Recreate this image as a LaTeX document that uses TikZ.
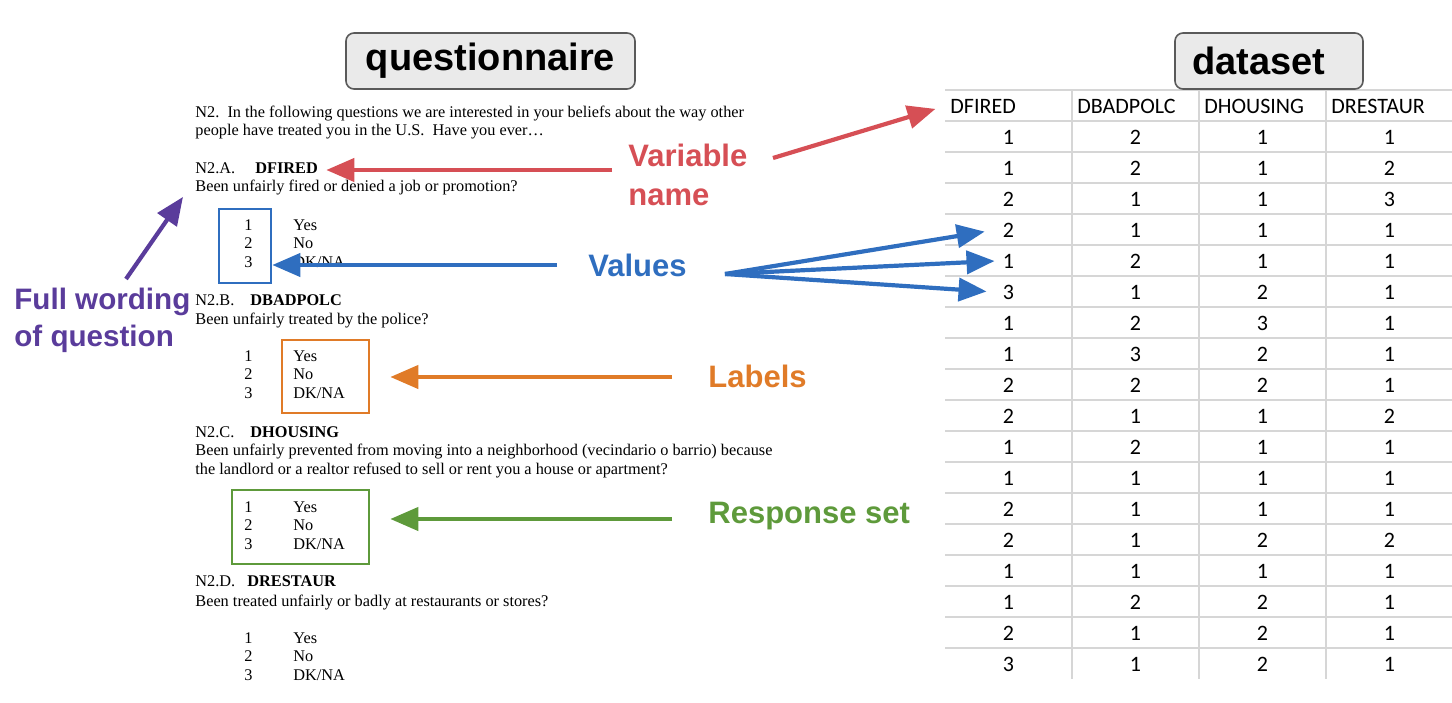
\documentclass[tikz,border=0pt]{standalone}
\usepackage{fontspec}
\setmainfont{Liberation Serif}
\newfontfamily\annofont{Liberation Sans}
\newfontfamily\sheetfont{Carlito}
\usepackage{tikz}
\usetikzlibrary{arrows.meta, positioning, fit}
\definecolor{varred}{HTML}{D64F55}
\definecolor{valblue}{HTML}{2F6EBF}
\definecolor{lblorange}{HTML}{E07B28}
\definecolor{setgreen}{HTML}{5E9A3B}
\definecolor{wordpurple}{HTML}{5A3C9B}
\definecolor{gridgray}{HTML}{D6D6D6}
\definecolor{hdrfill}{HTML}{EAEAEA}
\definecolor{hdrdraw}{HTML}{5A5A5A}
\tikzset{
  hdrbox/.style={
    draw=hdrdraw, fill=hdrfill, rounded corners=4pt, line width=0.8pt,
    minimum height=28pt, font=\annofont\fontsize{19}{22}\selectfont\bfseries
  },
  qline/.style={anchor=base west, inner sep=0pt, font=\fontsize{8.15}{9.4}\selectfont},
  qname/.style={anchor=base west, inner sep=0pt, font=\fontsize{8.15}{9.4}\selectfont\bfseries},
  respbox/.style={draw=#1, line width=1.3pt, inner sep=0pt},
  annolabel/.style={
    anchor=west, inner sep=0pt, align=left, text=#1,
    font=\annofont\fontsize{15.5}{19.5}\selectfont\bfseries
  },
  annoarrow/.style={draw=#1, line width=2.1pt, -{Triangle[length=14pt,width=11.5pt]}},
  gridline/.style={draw=gridgray, line width=0.6pt},
  colhead/.style={anchor=west, inner sep=2.5pt, font=\sheetfont\fontsize{11}{13}\selectfont},
  cell/.style={inner sep=4pt, font=\sheetfont\fontsize{11}{13}\selectfont}
}

\begin{document}
\begin{tikzpicture}[x=0.5pt, y=-0.5pt]
\useasboundingbox (0,0) rectangle (1452,702);

% questionnaire page
\node[qline] (intro1) at (195,117) {N2.\ \ In the following questions we are interested in your beliefs about the way other};
\node[qline] (intro2) at (195,135) {people have treated you in the U.S.\ \ Have you ever\ldots};

\node[qline] (headA) at (195,173) {N2.A.};
\node[qname] (nameA) at (255,173) {DFIRED};
\node[qline] (qA)    at (195,191) {Been unfairly fired or denied a job or promotion?};

\node[qline] (headB) at (195,305) {N2.B.};
\node[qname] (nameB) at (250,305) {DBADPOLC};
\node[qline] (qB)    at (195,324) {Been unfairly treated by the police?};

\node[qline] (headC) at (195,437) {N2.C.};
\node[qname] (nameC) at (250,437) {DHOUSING};
\node[qline] (qC1)   at (195,455) {Been unfairly prevented from moving into a neighborhood (vecindario o barrio) because};
\node[qline] (qC2)   at (195,474) {the landlord or a realtor refused to sell or rent you a house or apartment?};

\node[qline] (headD) at (195,586) {N2.D.};
\node[qname] (nameD) at (247,586) {DRESTAUR};
\node[qline] (qD)    at (195,606) {Been treated unfairly or badly at restaurants or stores?};

\foreach \blk/\y in {A/230, B/361, C/512, D/643} {
  \foreach \n/\t [count=\i] in {1/Yes, 2/No, 3/{DK/NA}} {
    \node[qline] (num\blk\i) at (244,\y+18.7*\i-18.7) {\n};
    \node[qline] (ans\blk\i) at (293,\y+18.7*\i-18.7) {\t};
  }
}

\node[respbox=valblue,   fit={(219,209) (271,283)}] (valbox) {};
\node[respbox=lblorange, fit={(282,340) (369,413)}] (ansbox) {};
\node[respbox=setgreen,  fit={(232,490) (369,564)}] (setbox) {};

% dataset
\draw[gridline] (945,90) -- (1452,90);
\foreach \k in {0,...,17}
  \draw[gridline] (945,121+31*\k) -- (1452,121+31*\k);
\foreach \x in {1072,1199,1326}
  \draw[gridline] (\x,90) -- (\x,679);

\foreach \h [count=\i] in {DFIRED,DBADPOLC,DHOUSING,DRESTAUR}
  \node[colhead] (hdr-\i) at (818+127*\i,106) {\h};

\foreach \a/\b/\c/\d [count=\r] in {1/2/1/1, 1/2/1/2, 2/1/1/3, 2/1/1/1, 1/2/1/1, 3/1/2/1,
    1/2/3/1, 1/3/2/1, 2/2/2/1, 2/1/1/2, 1/2/1/1, 1/1/1/1, 2/1/1/1, 2/1/2/2,
    1/1/1/1, 1/2/2/1, 2/1/2/1, 3/1/2/1} {
  \node[cell] (c-\r-1) at (1008.5,106+31*\r) {\a};
  \node[cell] (c-\r-2) at (1135.5,106+31*\r) {\b};
  \node[cell] (c-\r-3) at (1262.5,106+31*\r) {\c};
  \node[cell] (c-\r-4) at (1389.5,106+31*\r) {\d};
}

\node[hdrbox, minimum width=144.5pt] (qhdr) at (490.5,61) {questionnaire};
\node[hdrbox, minimum width=94pt]    (dhdr) at (1269,61)  {dataset\kern10pt};

% annotations
\node[annolabel=varred]     (varlbl)  at (628,175) {Variable\\name};
\node[annolabel=valblue]    (vallbl)  at (588,265) {Values};
\node[annolabel=lblorange]  (anslbl)  at (708,376) {Labels};
\node[annolabel=setgreen]   (setlbl)  at (708,516) {Response set};
\node[annolabel=wordpurple, font=\annofont\fontsize{14.8}{18.5}\selectfont\bfseries]
  (wordlbl) at (14,320) {Full wording\\of question};

\coordinate (varfrom)  at (612,170);
\coordinate (tblfrom)  at (773,158);
\coordinate (valfrom)  at (557,265);
\coordinate (fanfrom)  at (725,274);
\coordinate (ansfrom)  at (672,377);
\coordinate (setfrom)  at (672,519);
\coordinate (wordfrom) at (126,279);

\draw[annoarrow=varred, shorten >=4pt]  (varfrom) -- (varfrom -| nameA.east);
\draw[annoarrow=varred, shorten >=5pt]  (tblfrom) -- (hdr-1.west);
\draw[annoarrow=valblue] (valfrom) -- (valfrom -| valbox.east);
\draw[annoarrow=valblue, shorten >=5pt] (fanfrom) -- (c-4-1.west);
\draw[annoarrow=valblue]                (fanfrom) -- (c-5-1.west);
\draw[annoarrow=valblue, shorten >=4pt] (fanfrom) -- (c-6-1.west);
\draw[annoarrow=lblorange, shorten >=10pt] (ansfrom) -- (ansfrom -| ansbox.east);
\draw[annoarrow=setgreen, shorten >=10pt]  (setfrom) -- (setfrom -| setbox.east);
\draw[annoarrow=wordpurple] (wordfrom) -- ([xshift=-6pt,yshift=-1pt]qA.south west);
\end{tikzpicture}
\end{document}
